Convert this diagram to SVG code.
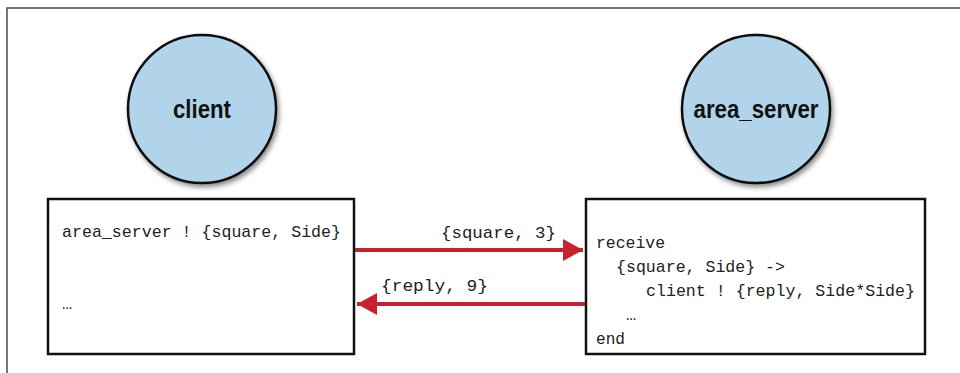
<svg xmlns="http://www.w3.org/2000/svg" width="960" height="373" viewBox="0 0 960 373">
<style>
.frame{fill:none;stroke:#4a4a4a;stroke-width:1.5}
.proc{fill:#b1d4ea;stroke:#111;stroke-width:2.5}
.ptext{font-family:"Liberation Sans",Arial,sans-serif;font-weight:bold;font-size:25px;fill:#111;text-anchor:middle}
.box{fill:#fff;stroke:#111;stroke-width:2.5}
.code{font-family:"Liberation Mono","Courier New",monospace;font-size:17px;fill:#222}
.msg{stroke:#c5222d;stroke-width:4;fill:none}
</style>
<defs>
<filter id="sh" x="-20%" y="-20%" width="150%" height="150%">
<feDropShadow dx="2" dy="3" stdDeviation="2.5" flood-color="#000" flood-opacity="0.45"/>
</filter>
<marker id="ah" viewBox="0 0 20 22" refX="20" refY="11" markerWidth="20" markerHeight="22" markerUnits="userSpaceOnUse" orient="auto">
<path d="M0,0 L20,11 L0,22 Z" fill="#c5222d"/>
</marker>
</defs>
<path class="frame" d="M7,373 L7,8 L960,8"/>
<g id="client">
<circle class="proc" cx="202" cy="109" r="74" filter="url(#sh)"/>
<text class="ptext" x="202" y="118" textLength="58" lengthAdjust="spacingAndGlyphs">client</text>
</g>
<g id="area_server">
<circle class="proc" cx="756" cy="109" r="74" filter="url(#sh)"/>
<text class="ptext" x="756" y="118" textLength="125" lengthAdjust="spacingAndGlyphs">area_server</text>
</g>
<g id="client_code">
<rect class="box" x="48" y="199" width="306" height="155"/>
<text class="code" x="62" y="237" textLength="279" lengthAdjust="spacingAndGlyphs">area_server ! {square, Side}</text>
<text class="code" x="62" y="309">…</text>
</g>
<g id="server_code">
<rect class="box" x="586" y="199" width="339" height="155"/>
<text class="code" x="596" y="248" textLength="69" lengthAdjust="spacingAndGlyphs">receive</text>
<text class="code" x="616" y="272" textLength="169" lengthAdjust="spacingAndGlyphs">{square, Side} -&gt;</text>
<text class="code" x="646" y="296" textLength="269" lengthAdjust="spacingAndGlyphs">client ! {reply, Side*Side}</text>
<text class="code" x="626" y="320">…</text>
<text class="code" x="596" y="344" textLength="29" lengthAdjust="spacingAndGlyphs">end</text>
</g>
<g id="connectors">
<line class="msg" x1="355" y1="250" x2="583" y2="250" marker-end="url(#ah)"/>
<text class="code" x="441" y="238" textLength="115" lengthAdjust="spacingAndGlyphs">{square, 3}</text>
<line class="msg" x1="585" y1="304" x2="357" y2="304" marker-end="url(#ah)"/>
<text class="code" x="381" y="291" textLength="107" lengthAdjust="spacingAndGlyphs">{reply, 9}</text>
</g>
</svg>
